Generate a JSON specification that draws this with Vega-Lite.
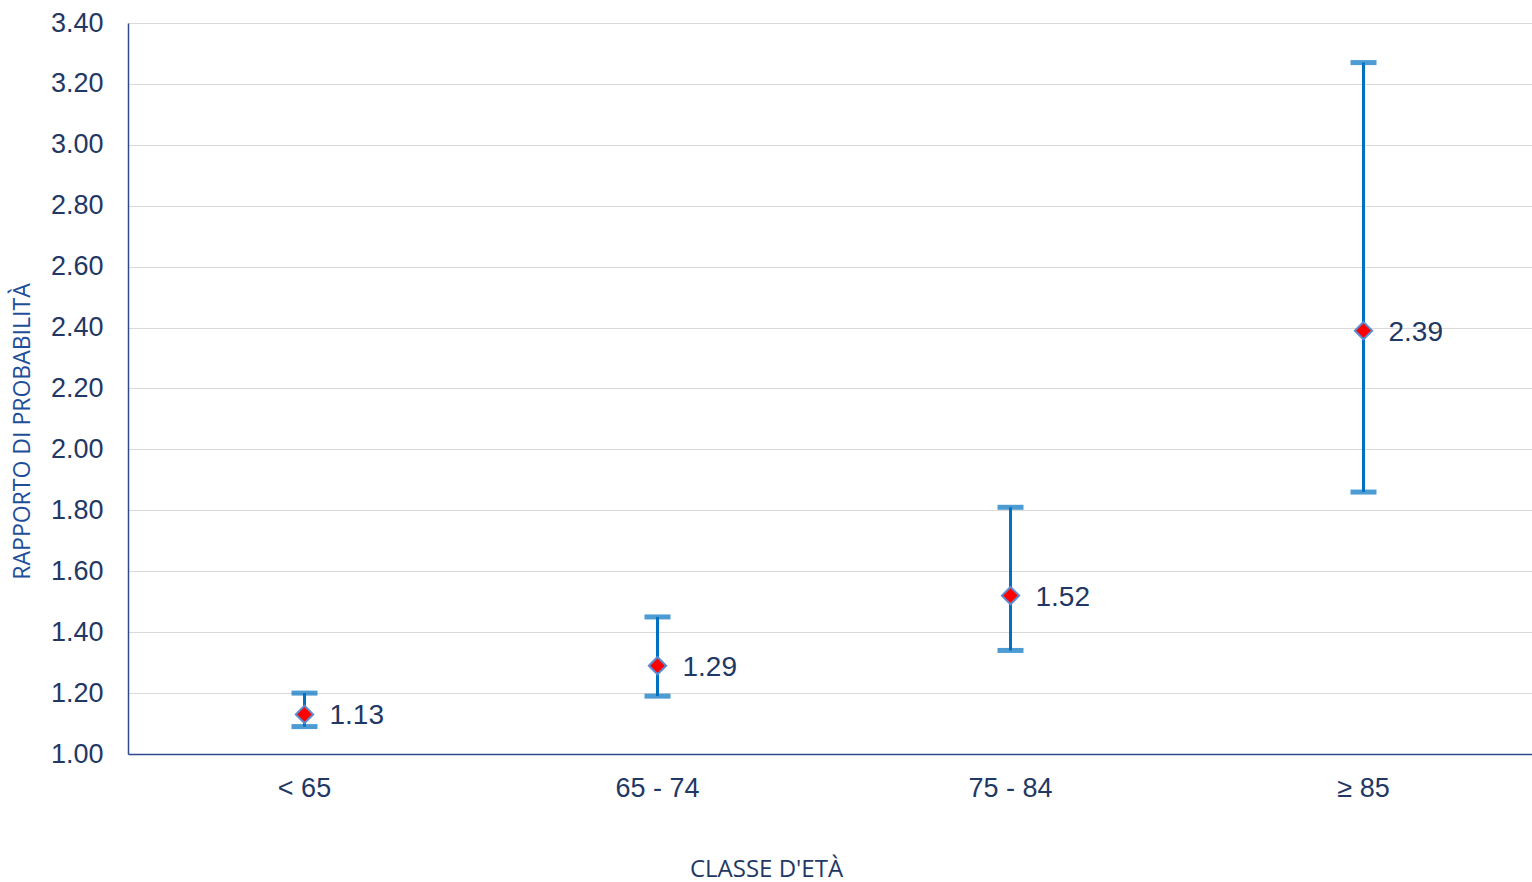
{
  "$schema": "https://vega.github.io/schema/vega-lite/v6.json",
  "width": 1412,
  "height": 731,
  "autosize": {"type": "none"},
  "padding": {"left": 128, "top": 23, "right": 0, "bottom": 128},
  "background": "white",
  "config": {"view": {"stroke": null}, "font": "Liberation Sans"},
  "data": {
    "values": [
      {"classe": "< 65", "or": 1.13, "lo": 1.09, "hi": 1.20},
      {"classe": "65 - 74", "or": 1.29, "lo": 1.19, "hi": 1.45},
      {"classe": "75 - 84", "or": 1.52, "lo": 1.34, "hi": 1.81},
      {"classe": "≥ 85", "or": 2.39, "lo": 1.86, "hi": 3.27}
    ]
  },
  "encoding": {
    "x": {
      "field": "classe", "type": "nominal", "sort": null,
      "scale": {"paddingInner": 0, "paddingOuter": 0},
      "axis": {
        "title": "CLASSE D'ETÀ", "labelAngle": 0, "labelFontSize": 27, "labelColor": "#1F3864",
        "labelPadding": 21, "ticks": false, "domainColor": "#2F4A8A", "domainWidth": 1.5,
        "titleFont": "Open Sans", "titleFontSize": 24, "titleFontWeight": "normal", "titleColor": "#1F3864",
        "titlePadding": 56, "titleX": 638, "grid": false
      }
    }
  },
  "layer": [
    {
      "mark": {"type": "rule", "color": "#0070C0", "strokeWidth": 3},
      "encoding": {
        "y": {
          "field": "lo", "type": "quantitative",
          "scale": {"domain": [1, 3.4], "nice": false, "zero": false},
          "axis": {
            "title": "RAPPORTO DI PROBABILITÀ", "values": [1, 1.2, 1.4, 1.6, 1.8, 2, 2.2, 2.4, 2.6, 2.8, 3, 3.2, 3.4],
            "format": ".2f", "labelFontSize": 27, "labelColor": "#1F3864", "labelPadding": 25,
            "ticks": false, "domainColor": "#2F4A8A", "domainWidth": 1.5,
            "gridColor": "#D9D9D9", "gridWidth": 1,
            "titleFont": "Open Sans", "titleFontSize": 23, "titleFontWeight": "normal", "titleColor": "#1F4E99",
            "titleX": -94, "titleY": 408
          }
        },
        "y2": {"field": "hi"}
      }
    },
    {
      "mark": {"type": "tick", "color": "#0070C0", "thickness": 5, "size": 26, "orient": "horizontal"},
      "encoding": {"y": {"field": "lo", "type": "quantitative"}}
    },
    {
      "mark": {"type": "tick", "color": "#0070C0", "thickness": 5, "size": 26, "orient": "horizontal"},
      "encoding": {"y": {"field": "hi", "type": "quantitative"}}
    },
    {
      "mark": {"type": "point", "shape": "diamond", "filled": true, "fill": "#FF0000", "stroke": "#5B8BD0", "strokeWidth": 2, "size": 300, "opacity": 1},
      "encoding": {"y": {"field": "or", "type": "quantitative"}}
    },
    {
      "mark": {"type": "text", "align": "left", "baseline": "middle", "dx": 25, "dy": 2, "fontSize": 28, "color": "#1F3864"},
      "encoding": {
        "y": {"field": "or", "type": "quantitative"},
        "text": {"field": "or", "type": "quantitative", "format": ".2f"}
      }
    }
  ]
}
